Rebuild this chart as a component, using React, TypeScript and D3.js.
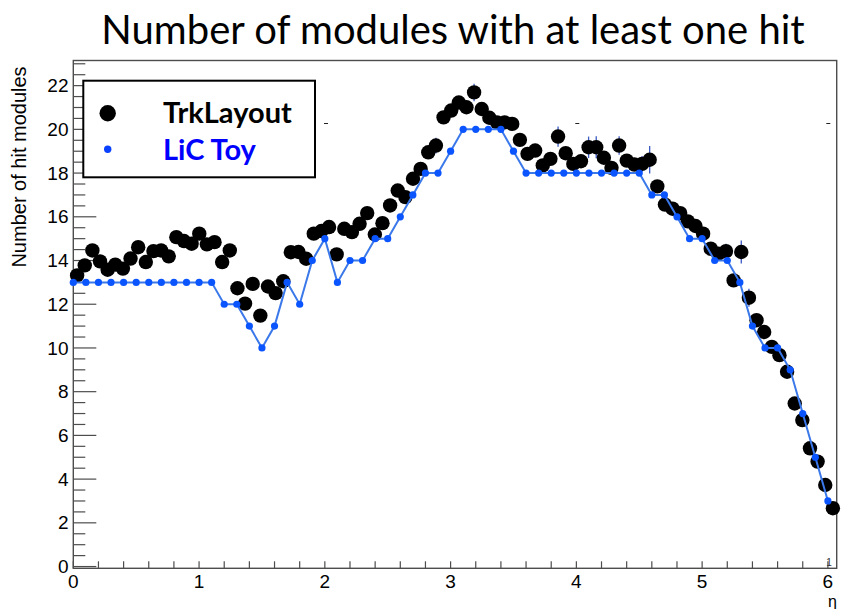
import React from "react";
import * as d3 from "d3";

// Hit-module multiplicity vs pseudorapidity: full tracker layout (100 bins in eta)
const ETA_MAX = 6.07;
const N_BINS = 100;

const trkLayoutValues: number[] = [
  13.32, 13.78, 14.46, 13.96, 13.58, 13.81, 13.63, 14.09, 14.61, 13.93,
  14.43, 14.46, 14.19, 15.07, 14.89, 14.77, 15.23, 14.74, 14.84, 13.93,
  14.46, 12.73, 12.03, 12.93, 11.48, 12.81, 12.51, 13.05, 14.38, 14.39,
  14.08, 15.23, 15.35, 15.53, 14.28, 15.45, 15.3, 15.68, 16.17, 15.19,
  15.71, 16.52, 17.2, 16.9, 17.74, 18.19, 18.95, 19.26, 20.55, 20.86,
  21.23, 21.01, 21.69, 20.93, 20.53, 20.32, 20.32, 20.25, 19.52, 18.88,
  19.03, 18.35, 18.65, 19.67, 18.91, 18.42, 18.54, 19.18, 19.18, 18.7,
  18.24, 19.26, 18.57, 18.39, 18.42, 18.61, 17.39, 16.56, 16.37, 16.17,
  15.79, 15.58, 15.23, 14.54, 14.31, 14.43, 13.09, 14.39, 12.3, 11.27,
  10.73, 10.05, 9.67, 8.91, 7.46, 6.7, 5.41, 4.8, 3.73, 2.67,
];

// Statistical errors that stick out beyond the markers: [bin index, half-length]
const trkLayoutErrors: [number, number][] = [
  [47, 0.36], [52, 0.4], [63, 0.46], [67, 0.49], [68, 0.5],
  [71, 0.42], [74, 0.36], [75, 0.63], [85, 0.34], [87, 0.53], [88, 0.41],
];

// Toy model, evaluated every 0.1 in eta
const licEta: number[] = d3.range(0, 61).map((i) => +(i * 0.1).toFixed(1));
const licValues: number[] = [
  13, 13, 13, 13, 13, 13, 13, 13, 13, 13,
  13, 13, 12, 12, 11, 10, 11, 13, 12, 14,
  15, 13, 14, 14, 15, 15, 16, 17, 18, 18,
  19, 20, 20, 20, 20, 19, 18, 18, 18, 18,
  18, 18, 18, 18, 18, 18, 17, 17, 16, 15,
  15, 14, 14, 13, 11, 10, 10, 9, 7, 5,
  3,
];

const yMajorTicks: number[] = d3.range(0, 23, 2);
const yMinorTicks: number[] = d3.range(0, 23.01, 0.5);
const xTicks: number[] = d3.range(0, 6.01, 0.2);
const xLabels: number[] = [0, 1, 2, 3, 4, 5, 6];

const W = 841;
const H = 609;
const frame = { left: 73.3, right: 836.7, top: 60.5, bottom: 568.3 };

export default function App() {
  const x = d3.scaleLinear().domain([0, ETA_MAX]).range([frame.left, frame.right]);
  const y = d3.scaleLinear().domain([-0.08, 23.15]).range([frame.bottom, frame.top]);

  const binWidth = ETA_MAX / N_BINS;
  const trkEta = trkLayoutValues.map((_, i) => (i + 0.5) * binWidth);

  const line = d3
    .line<number>()
    .x((_, i) => x(licEta[i]))
    .y((v) => y(v));

  const axisColor = "#4d4d4d";
  const tickFont = "'Liberation Sans', Arial, Helvetica, sans-serif";
  const titleFont = "Lato, 'Open Sans', sans-serif";

  return (
    <svg
      width={W}
      height={H}
      viewBox={`0 0 ${W} ${H}`}
      style={{ position: "absolute", left: 0, top: 0, background: "#fff" }}
    >
      <rect x={0} y={0} width={W} height={H} fill="#fff" />

      {/* title */}
      <text x={453} y={44} textAnchor="middle" fontFamily={titleFont} fontSize={40} fill="#000">
        Number of modules with at least one hit
      </text>

      {/* frame */}
      <rect
        x={frame.left}
        y={frame.top}
        width={frame.right - frame.left}
        height={frame.bottom - frame.top}
        fill="none"
        stroke={axisColor}
        strokeWidth={1.4}
      />

      {/* y axis ticks */}
      {yMinorTicks.map((t) => (
        <line
          key={`ym${t}`}
          x1={frame.left}
          x2={frame.left + (t % 2 === 0 ? 23 : 12)}
          y1={y(t)}
          y2={y(t)}
          stroke={axisColor}
          strokeWidth={1.2}
        />
      ))}
      {yMajorTicks.map((t) => (
        <text
          key={`yl${t}`}
          x={68.5}
          y={y(t) + 6.6}
          textAnchor="end"
          fontFamily={tickFont}
          fontSize={19}
          fill="#000"
        >
          {t}
        </text>
      ))}

      {/* x axis ticks */}
      {xTicks.map((t) => (
        <line
          key={`xt${t}`}
          x1={x(t)}
          x2={x(t)}
          y1={frame.bottom}
          y2={frame.bottom - 7}
          stroke={axisColor}
          strokeWidth={1.2}
        />
      ))}
      {xLabels.map((t) => (
        <text
          key={`xl${t}`}
          x={x(t)}
          y={588}
          textAnchor="middle"
          fontFamily={tickFont}
          fontSize={19}
          fill="#000"
        >
          {t}
        </text>
      ))}
      <text x={829} y={566} textAnchor="middle" fontFamily={tickFont} fontSize={10} fill="#333">
        1
      </text>

      {/* axis titles */}
      <text
        transform={`translate(26, 167) rotate(-90)`}
        textAnchor="middle"
        fontFamily={tickFont}
        fontSize={20}
        fill="#000"
      >
        Number of hit modules
      </text>
      <text x={837} y={606.5} textAnchor="end" fontFamily={tickFont} fontSize={16} fill="#000">
        η
      </text>

      {/* small marks at the height of 20 */}
      {[326, 577.3, 828.3].map((px) => (
        <line key={`d${px}`} x1={px - 2} x2={px + 2} y1={123.5} y2={123.5} stroke="#222" strokeWidth={1} />
      ))}

      {/* error bars */}
      {trkLayoutErrors.map(([i, e]) => (
        <line
          key={`e${i}`}
          x1={x(trkEta[i])}
          x2={x(trkEta[i])}
          y1={y(trkLayoutValues[i] - e)}
          y2={y(trkLayoutValues[i] + e)}
          stroke="#3b5bc4"
          strokeWidth={1.3}
        />
      ))}

      {/* TrkLayout markers */}
      {trkLayoutValues.map((v, i) => (
        <circle key={`b${i}`} cx={x(trkEta[i])} cy={y(v)} r={7.2} fill="#000" />
      ))}

      {/* LiC Toy line + markers */}
      <path d={line(licValues) ?? ""} fill="none" stroke="#3b78ea" strokeWidth={2} />
      {licValues.map((v, i) => (
        <circle key={`l${i}`} cx={x(licEta[i])} cy={y(v)} r={3.6} fill="#0a55ff" />
      ))}

      {/* legend */}
      <rect x={83.3} y={80.7} width={231.7} height={96.6} fill="#fff" stroke="#000" strokeWidth={2} />
      <circle cx={107.7} cy={113.3} r={8.2} fill="#000" />
      <text x={163} y={123.3} fontFamily={titleFont} fontWeight="bold" fontSize={29} fill="#000">
        TrkLayout
      </text>
      <circle cx={107.7} cy={149.3} r={3.7} fill="#0a40ff" />
      <text x={163} y={160} fontFamily={titleFont} fontWeight="bold" fontSize={29} fill="#0000ff">
        LiC Toy
      </text>
    </svg>
  );
}
